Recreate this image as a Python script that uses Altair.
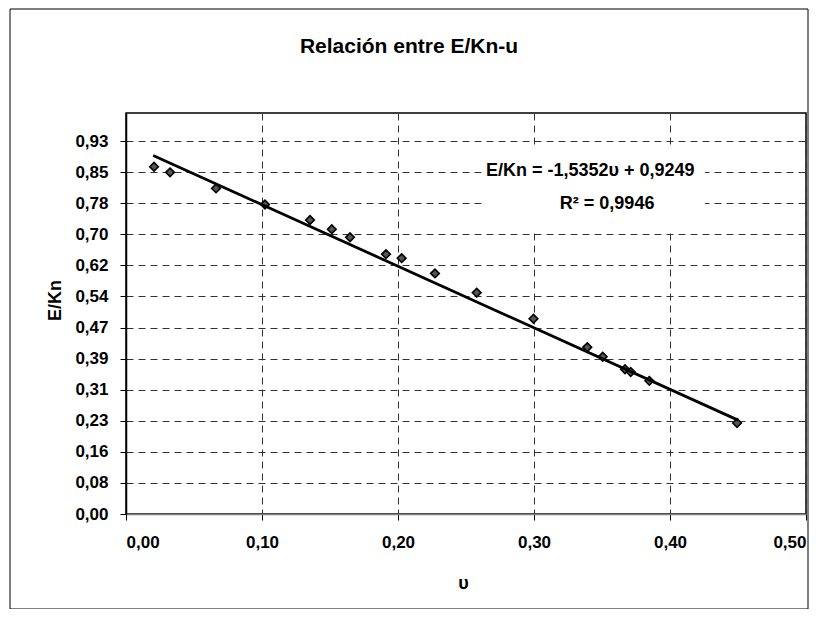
import altair as alt
import pandas as pd

# data
u_vals = [0.0206, 0.0324, 0.0662, 0.1022, 0.1353, 0.1513, 0.1647, 0.1912, 0.2027,
          0.2272, 0.2579, 0.2996, 0.3392, 0.3505, 0.3669, 0.3711, 0.3848, 0.4493]
ekn_vals = [0.866, 0.852, 0.812, 0.772, 0.733, 0.710, 0.690, 0.648, 0.638,
            0.600, 0.552, 0.487, 0.416, 0.392, 0.361, 0.354, 0.332, 0.227]

slope = -1.5352
intercept = 0.9249
trend_u = [0.02, 0.45]

y_ticks = [0.0, 0.0775, 0.155, 0.2325, 0.31, 0.3875, 0.465, 0.5425, 0.62, 0.6975, 0.775, 0.8525, 0.93]
x_ticks = [0.0, 0.1, 0.2, 0.3, 0.4, 0.5]

title_text = ["Relación entre E/Kn-u"]
eq_text = ["E/Kn = -1,5352υ + 0,9249", "R² = 0,9946"]
eq_u = [0.2647, 0.319]
eq_y = [0.855, 0.774]
# label box extent (data units)
box_u = [0.2618, 0.4257]
box_y = [0.708, 0.920]

FONT = "Liberation Sans"

pts = pd.DataFrame({"u": u_vals, "ekn": ekn_vals})
trend = pd.DataFrame({"u": trend_u, "ekn": [slope * v + intercept for v in trend_u]})
ann = pd.DataFrame({"u": eq_u, "ekn": eq_y, "t": eq_text})
ttl = pd.DataFrame({"t": title_text})
box = pd.DataFrame({"u": [box_u[0]], "u2": [box_u[1]], "y": [box_y[0]], "y2": [box_y[1]]})

lab_expr = "replace(format(datum.value + 1e-9, '.2f'), '.', ',')"

x_scale = alt.Scale(domain=[0, 0.5], nice=False, zero=False)
y_scale = alt.Scale(domain=[0, 1.0], nice=False, zero=False)

x_axis = alt.Axis(values=x_ticks, tickCount=20, labelExpr=lab_expr, title="υ", labelOverlap=False,
                  grid=True, gridDash=[7, 5], gridColor="#333333", gridWidth=1,
                  domainColor="#808080", domainWidth=1.5,
                  tickColor="#000000", tickSize=6, labelPadding=14,
                  labelFont=FONT, labelFontSize=17, labelFontWeight="bold", labelColor="#000000",
                  titleFont=FONT, titleFontSize=18, titleFontWeight="bold", titleColor="#000000",
                  titleX=337, titleY=69, titleBaseline="middle", titleAlign="center")
y_axis = alt.Axis(values=y_ticks, tickCount=20, labelExpr=lab_expr, title="E/Kn", labelOverlap=False,
                  grid=True, gridDash=[7, 5], gridColor="#333333", gridWidth=1,
                  domainColor="#000000", domainWidth=1.5,
                  tickColor="#000000", tickSize=6, labelPadding=12,
                  labelFont=FONT, labelFontSize=17, labelFontWeight="bold", labelColor="#000000",
                  titleFont=FONT, titleFontSize=18, titleFontWeight="bold", titleColor="#000000",
                  titleX=-71, titleY=187, titleBaseline="middle", titleAlign="center", titleAngle=270)

frame = alt.Chart(pd.DataFrame({"a": [0]})).mark_rect(
    fill=None, stroke="#000000", strokeWidth=1
).encode(x=alt.value(-116), x2=alt.value(682), y=alt.value(-104), y2=alt.value(496))

title = alt.Chart(ttl).mark_text(
    align="center", baseline="middle", font=FONT, fontSize=21, fontWeight="bold", color="#000000"
).encode(x=alt.value(283), y=alt.value(-66), text="t:N")

points = alt.Chart(pts).mark_point(
    shape="diamond", filled=True, size=75, fill="#555555", stroke="#000000", strokeWidth=1.6, opacity=1
).encode(x=alt.X("u:Q", scale=x_scale, axis=x_axis), y=alt.Y("ekn:Q", scale=y_scale, axis=y_axis))

line = alt.Chart(trend).mark_line(color="#000000", strokeWidth=2.8).encode(
    x=alt.X("u:Q", scale=x_scale), y=alt.Y("ekn:Q", scale=y_scale))

label_box = alt.Chart(box).mark_rect(fill="#ffffff", stroke=None).encode(
    x=alt.X("u:Q", scale=x_scale), x2="u2:Q",
    y=alt.Y("y:Q", scale=y_scale), y2="y2:Q")

texts = alt.Chart(ann).mark_text(
    align="left", baseline="middle", font=FONT, fontSize=18, fontWeight="bold", color="#000000"
).encode(x=alt.X("u:Q", scale=x_scale), y=alt.Y("ekn:Q", scale=y_scale), text="t:N")

chart = alt.layer(frame, title, label_box, points, line, texts).properties(
    width=680, height=401,
    autosize=alt.AutoSizeParams(type="none"),
    padding={"left": 118, "top": 105, "right": 10, "bottom": 95},
    background="#ffffff",
).configure_view(stroke="#000000", strokeWidth=1.5)

chart.save("out.html", embed_options={"renderer": "svg", "actions": False})
